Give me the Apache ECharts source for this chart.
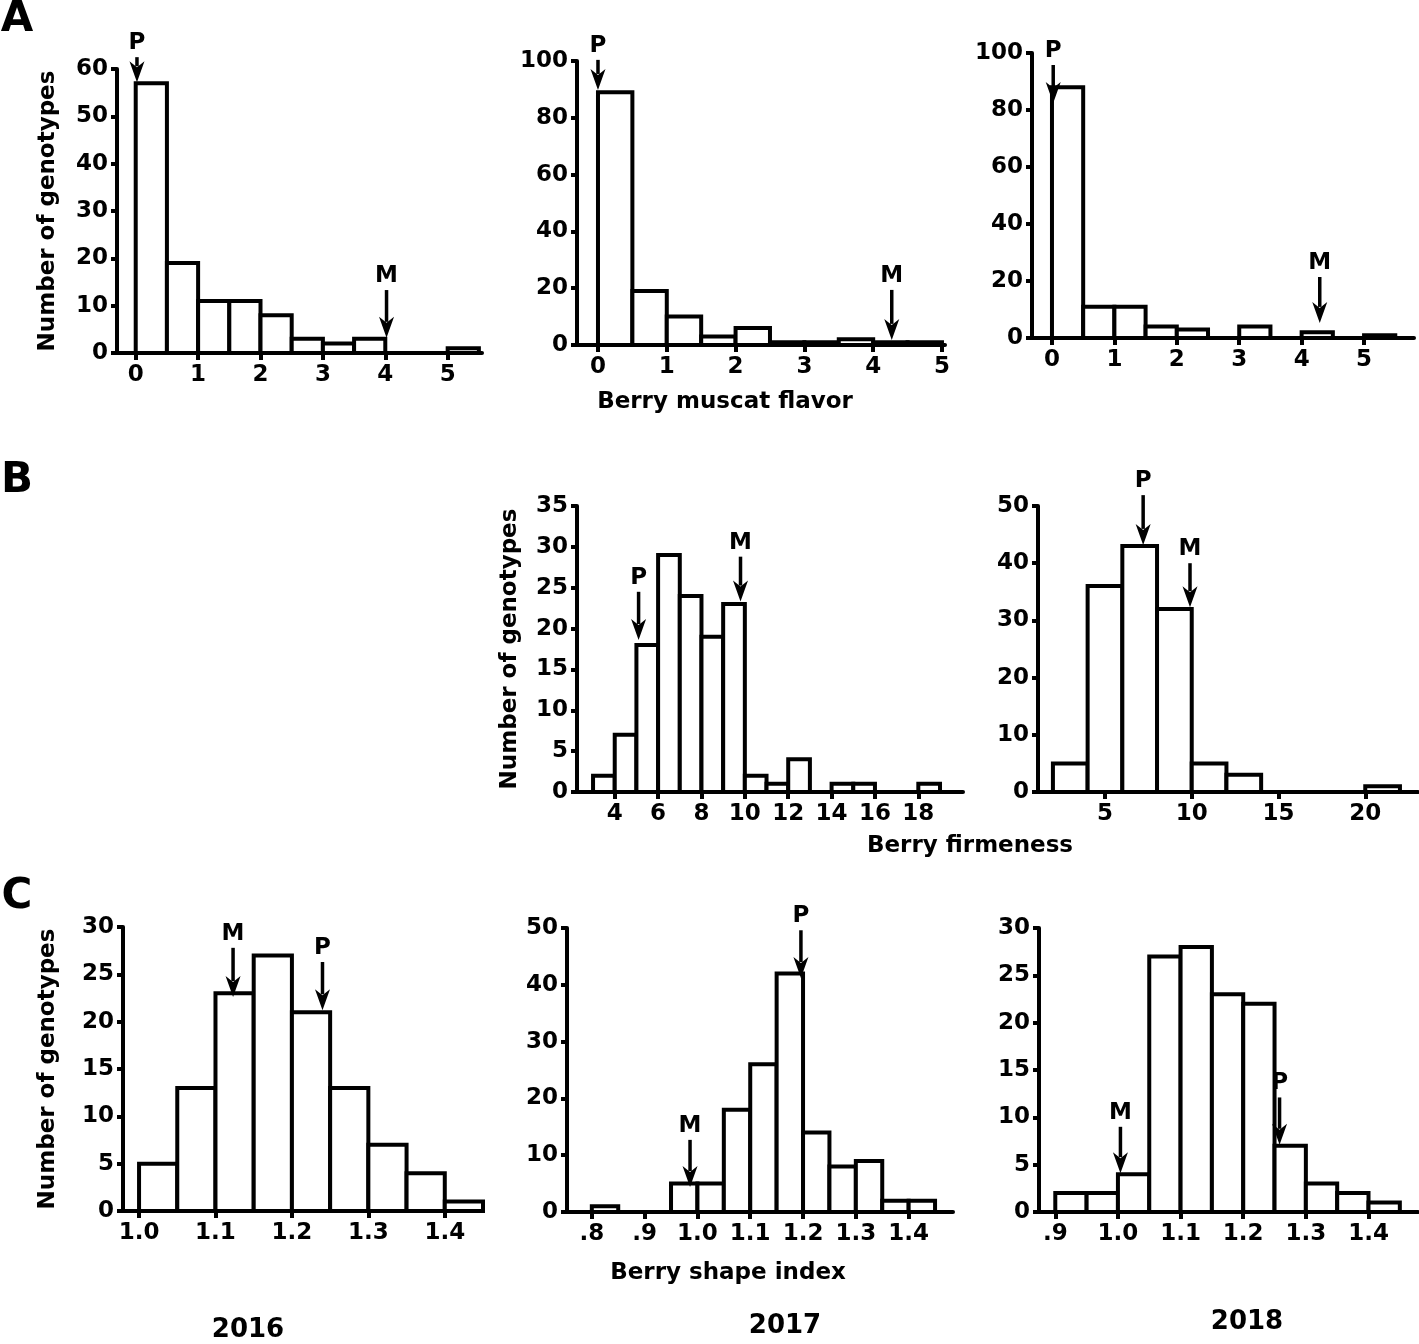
<!DOCTYPE html>
<html>
<head>
<meta charset="utf-8">
<title>Berry trait distributions</title>
<script src="https://cdn.jsdelivr.net/npm/echarts@6/dist/echarts.min.js"></script>
<style>
  html, body { margin: 0; padding: 0; background: #ffffff; }
  #chart { width: 1419px; height: 1344px; }
</style>
</head>
<body>
<div id="chart"></div>
<script>
// histogram bins (edges) and counts
// A: berry muscat flavor 2016 / 2017 / 2018
const a1Edges = [0, 0.5, 1, 1.5, 2, 2.5, 3, 3.5, 4, 4.5, 5, 5.5];
const a1Counts = [57, 19, 11, 11, 8, 3, 2, 3, 0, 0, 1];
const a2Edges = [0, 0.5, 1, 1.5, 2, 2.5, 3, 3.5, 4, 4.5, 5];
const a2Counts = [89, 19, 10, 3, 6, 1, 1, 2, 1, 1];
const a3Edges = [0, 0.5, 1, 1.5, 2, 2.5, 3, 3.5, 4, 4.5, 5, 5.5];
const a3Counts = [88, 11, 11, 4, 3, 0, 4, 0, 2, 0, 1];
// B: berry firmeness 2017 / 2018
const b1Edges = [3, 4, 5, 6, 7, 8, 9, 10, 11, 12, 13, 14, 15, 16, 17, 18, 19];
const b1Counts = [2, 7, 18, 29, 24, 19, 23, 2, 1, 4, 0, 1, 1, 0, 0, 1];
const b2Edges = [2, 4, 6, 8, 10, 12, 14, 16, 18, 20, 22];
const b2Counts = [5, 36, 43, 32, 5, 3, 0, 0, 0, 1];
// C: berry shape index 2016 / 2017 / 2018
const c1Edges = [1.0, 1.05, 1.1, 1.15, 1.2, 1.25, 1.3, 1.35, 1.4, 1.45];
const c1Counts = [5, 13, 23, 27, 21, 13, 7, 4, 1];
const c2Edges = [0.8, 0.85, 0.9, 0.95, 1.0, 1.05, 1.1, 1.15, 1.2, 1.25, 1.3, 1.35, 1.4, 1.45];
const c2Counts = [1, 0, 0, 5, 5, 18, 26, 42, 14, 8, 9, 2, 2];
const c3Edges = [0.9, 0.95, 1.0, 1.05, 1.1, 1.15, 1.2, 1.25, 1.3, 1.35, 1.4, 1.45];
const c3Counts = [2, 2, 4, 27, 28, 23, 22, 7, 3, 2, 1];

// parent arrows: [label, x, y start, y tip]
const a1Arrows = [['P', 0.02, 62.5, 57.2], ['M', 4.02, 13.3, 3.2]];
const a2Arrows = [['P', 0.0, 100.4, 89.8], ['M', 4.27, 19.4, 1.8]];
const a3Arrows = [['P', 0.02, 95.8, 82.5], ['M', 4.29, 21.4, 5.3]];
const b1Arrows = [['P', 5.1, 24.5, 18.6], ['M', 9.8, 28.8, 23.3]];
const b2Arrows = [['P', 7.2, 51.9, 43.2], ['M', 9.9, 40.0, 32.3]];
const c1Arrows = [['M', 1.123, 27.8, 22.6], ['P', 1.24, 26.3, 21.2]];
const c2Arrows = [['M', 0.986, 12.7, 4.4], ['P', 1.196, 49.6, 41.2]];
const c3Arrows = [['M', 1.004, 9.0, 4.1], ['P', 1.258, 12.1, 7.1]];

// x tick labels
const aTicks = [0, 1, 2, 3, 4, 5];
const b1Ticks = [4, 6, 8, 10, 12, 14, 16, 18];
const b2Ticks = [5, 10, 15, 20];
const c1Ticks = [1.0, 1.1, 1.2, 1.3, 1.4];
const c2Ticks = [0.8, 0.9, 1.0, 1.1, 1.2, 1.3, 1.4];
const c3Ticks = [0.9, 1.0, 1.1, 1.2, 1.3, 1.4];

const FONT = 'DejaVu Sans';
const yTitle = 'Number of genotypes';

function plain(v) { return String(v); }
function oneDec(v) { return v.toFixed(1); }
function shortDec(v) { return v < 1 ? '.' + Math.round(v * 10) : v.toFixed(1); }

const panels = [
  {edges: a1Edges, counts: a1Counts, arrows: a1Arrows, ticks: aTicks, fmt: plain,
   grid: {left: 117, top: 69, width: 365, height: 284}, xMin: -0.30, xMax: 5.55, yMax: 60, yStep: 10, yName: yTitle, nameGap: 57},
  {edges: a2Edges, counts: a2Counts, arrows: a2Arrows, ticks: aTicks, fmt: plain,
   grid: {left: 577, top: 61, width: 368, height: 284}, xMin: -0.305, xMax: 5.044, yMax: 100, yStep: 20},
  {edges: a3Edges, counts: a3Counts, arrows: a3Arrows, ticks: aTicks, fmt: plain,
   grid: {left: 1032, top: 53, width: 382, height: 285}, xMin: -0.32, xMax: 5.80, yMax: 100, yStep: 20},
  {edges: b1Edges, counts: b1Counts, arrows: b1Arrows, ticks: b1Ticks, fmt: plain,
   grid: {left: 577, top: 506, width: 386, height: 286}, xMin: 2.26, xMax: 20.06, yMax: 35, yStep: 5, yName: yTitle, nameGap: 55},
  {edges: b2Edges, counts: b2Counts, arrows: b2Arrows, ticks: b2Ticks, fmt: plain,
   grid: {left: 1038, top: 506, width: 380, height: 286}, xMin: 1.14, xMax: 23.04, yMax: 50, yStep: 10},
  {edges: c1Edges, counts: c1Counts, arrows: c1Arrows, ticks: c1Ticks, fmt: oneDec,
   grid: {left: 123, top: 927, width: 360, height: 284}, xMin: 0.979, xMax: 1.45, yMax: 30, yStep: 5, yName: yTitle, nameGap: 63},
  {edges: c2Edges, counts: c2Counts, arrows: c2Arrows, ticks: c2Ticks, fmt: shortDec,
   grid: {left: 567, top: 928, width: 386, height: 284}, xMin: 0.753, xMax: 1.484, yMax: 50, yStep: 10},
  {edges: c3Edges, counts: c3Counts, arrows: c3Arrows, ticks: c3Ticks, fmt: shortDec,
   grid: {left: 1039, top: 928, width: 379, height: 284}, xMin: 0.874, xMax: 1.479, yMax: 30, yStep: 5}
];

const axisLine = {show: true, onZero: false, lineStyle: {color: '#000', width: 4}};
const labelStyle = {color: '#000', fontFamily: FONT, fontWeight: 'bold', fontSize: 23};

const grids = [], xAxes = [], yAxes = [], series = [];

panels.forEach(function (p, i) {
  grids.push(Object.assign({containLabel: false, outerBoundsMode: 'none'}, p.grid));

  xAxes.push({
    gridIndex: i, type: 'value', min: p.xMin, max: p.xMax,
    axisLine: axisLine,
    axisTick: {show: true, length: 7, customValues: p.ticks, lineStyle: {color: '#000', width: 4}},
    axisLabel: Object.assign({margin: 11, customValues: p.ticks, formatter: p.fmt}, labelStyle),
    splitLine: {show: false}
  });

  yAxes.push({
    gridIndex: i, type: 'value', min: 0, max: p.yMax, interval: p.yStep,
    axisLine: axisLine,
    axisTick: {show: true, length: 6, lineStyle: {color: '#000', width: 4}},
    axisLabel: Object.assign({margin: 9}, labelStyle),
    splitLine: {show: false},
    name: p.yName || '',
    nameLocation: 'middle', nameRotate: 90, nameGap: p.nameGap || 50,
    nameMoveOverlap: false,
    nameTextStyle: {color: '#000', fontFamily: FONT, fontWeight: 'bold', fontSize: 23}
  });

  // bins -> [x0, x1, count]
  const bins = [];
  p.counts.forEach(function (c, k) {
    if (c > 0) bins.push([p.edges[k], p.edges[k + 1], c]);
  });

  series.push({
    type: 'custom', xAxisIndex: i, yAxisIndex: i, z: 3,
    data: bins,
    encode: {x: [0, 1], y: 2},
    renderItem: function (params, api) {
      const a = api.coord([api.value(0), api.value(2)]);
      const b = api.coord([api.value(1), 0]);
      return {
        type: 'rect',
        shape: {x: a[0], y: a[1], width: b[0] - a[0], height: b[1] - a[1]},
        style: {fill: '#fff', stroke: '#000', lineWidth: 4}
      };
    }
  });

  const arrows = p.arrows;
  series.push({
    type: 'custom', xAxisIndex: i, yAxisIndex: i, z: 5, clip: false,
    data: arrows.map(function (r) { return [r[1], r[2], r[3]]; }),
    encode: {x: 0, y: [1, 2]},
    renderItem: function (params, api) {
      const lab = arrows[params.dataIndex][0];
      const s = api.coord([api.value(0), api.value(1)]);
      const t = api.coord([api.value(0), api.value(2)]);
      const head = 21, half = 7.5;
      return {
        type: 'group',
        children: [
          {type: 'line', shape: {x1: s[0], y1: s[1], x2: t[0], y2: t[1] - head + 5},
           style: {stroke: '#000', lineWidth: 3.5}},
          {type: 'polygon',
           shape: {points: [[t[0], t[1]], [t[0] - half, t[1] - head], [t[0], t[1] - head + 6], [t[0] + half, t[1] - head]]},
           style: {fill: '#000'}},
          {type: 'text', x: s[0], y: s[1] - 14,
           style: {text: lab, fill: '#000', font: 'bold 23px "DejaVu Sans"', textAlign: 'center', textVerticalAlign: 'middle'}}
        ]
      };
    }
  });
});

function label(text, x, y, size) {
  return {
    type: 'text', x: x, y: y,
    style: {text: text, fill: '#000', font: 'bold ' + size + 'px "DejaVu Sans"', textAlign: 'center', textVerticalAlign: 'middle'}
  };
}

const option = {
  backgroundColor: '#ffffff',
  animation: false,
  grid: grids,
  xAxis: xAxes,
  yAxis: yAxes,
  series: series,
  graphic: [
    label('A', 17, 20, 42),
    label('B', 17, 481, 42),
    label('C', 17, 897, 42),
    label('Berry muscat flavor', 725, 402, 23),
    label('Berry firmeness', 970, 846, 23),
    label('Berry shape index', 728, 1273, 23),
    label('2016', 248, 1330, 26),
    label('2017', 785, 1326, 26),
    label('2018', 1247, 1322, 26)
  ]
};

const myChart = echarts.init(document.getElementById('chart'));
myChart.setOption(option);
window.addEventListener('resize', function () { myChart.resize(); });
</script>
</body>
</html>
